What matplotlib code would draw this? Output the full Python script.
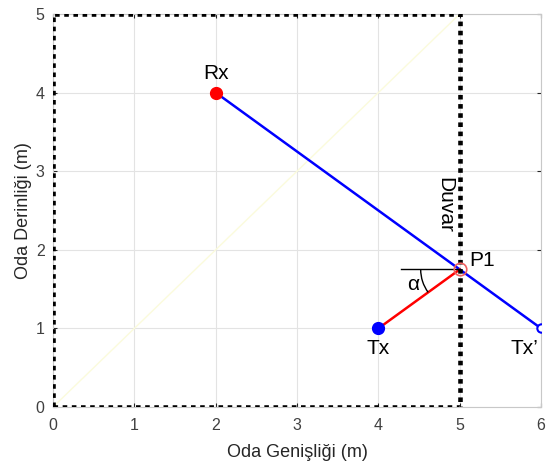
import matplotlib.pyplot as plt
from matplotlib.patches import Arc
import numpy as np

plt.rcParams['font.family'] = ['Liberation Sans', 'DejaVu Sans']

# points (m)
rx = (2, 4)
tx = (4, 1)
tx_img = (6, 1)
p1 = (5, 1.75)
room_x = [0, 5, 5, 0, 0]
room_y = [0, 0, 5, 5, 0]

xticks = [0, 1, 2, 3, 4, 5, 6]
yticks = [0, 1, 2, 3, 4, 5]

fig = plt.figure(figsize=(5.51, 4.66), dpi=100)
ax = fig.add_axes([0.0962, 0.1266, 0.8858, 0.8434])

# faint diagonal
ax.plot([0, 5], [0, 5], color='#fbfbdc', lw=1, zorder=1)

# reflected path and direct segment
ax.plot([rx[0], tx_img[0]], [rx[1], tx_img[1]], color='blue', lw=1.8, zorder=3)
ax.plot([tx[0], p1[0]], [tx[1], p1[1]], color='red', lw=1.8, zorder=3)

# reference line and angle arc
ax.plot([p1[0] - 0.72, p1[0]], [p1[1], p1[1]], color='black', lw=1, zorder=3)
ang = np.degrees(np.arctan2(p1[1] - tx[1], p1[0] - tx[0]))
ax.add_patch(Arc(p1, 0.96, 0.99, theta1=180, theta2=180 + ang, color='black', lw=1, zorder=3))

# room walls
ax.plot(room_x, room_y, color='black', lw=3.3, linestyle=(0, (1, 1)), zorder=4)

# markers
ax.plot(*rx, 'o', color='red', ms=8.5, zorder=5)
ax.plot(*tx, 'o', color='blue', ms=8.5, zorder=5)
ax.plot(*tx_img, 'o', mfc='white', mec='blue', mew=1.5, ms=6, zorder=5)
ax.plot(*p1, 'o', mfc='none', mec='#f06060', mew=1.2, ms=9, zorder=5)

# labels
fs = 15
ax.text(2, 4.12, 'Rx', fontsize=fs, ha='center', va='bottom')
ax.text(4, 0.87, 'Tx', fontsize=fs, ha='center', va='top')
ax.text(5.8, 0.87, 'Tx\u2019', fontsize=fs, ha='center', va='top')
ax.text(5.12, 1.86, 'P1', fontsize=fs, ha='left', va='center')
ax.text(4.43, 1.56, '\u03b1', fontsize=fs, ha='center', va='center')
ax.text(4.82, 2.57, 'Duvar', fontsize=fs, ha='center', va='center', rotation=-90)

ax.set_xlim(0, 6)
ax.set_ylim(0, 5)
ax.set_xticks(xticks)
ax.set_yticks(yticks)
ax.grid(True, color='#e3e3e3', lw=0.8)
ax.set_axisbelow(True)
for s in ax.spines.values():
    s.set_color('#c8c8c8')
    s.set_linewidth(0.8)
ax.tick_params(direction='in', length=3, width=0.8, color='#262626',
               labelcolor='#404040', labelsize=11.5, top=True, right=True)
ax.tick_params(axis='x', pad=8)
ax.tick_params(axis='y', pad=6)
ax.set_xlabel('Oda Genişliği (m)', fontsize=13, color='#262626', labelpad=8)
ax.set_ylabel('Oda Derinliği (m)', fontsize=13, color='#262626', labelpad=3)

fig.savefig('out.png', dpi=100)
